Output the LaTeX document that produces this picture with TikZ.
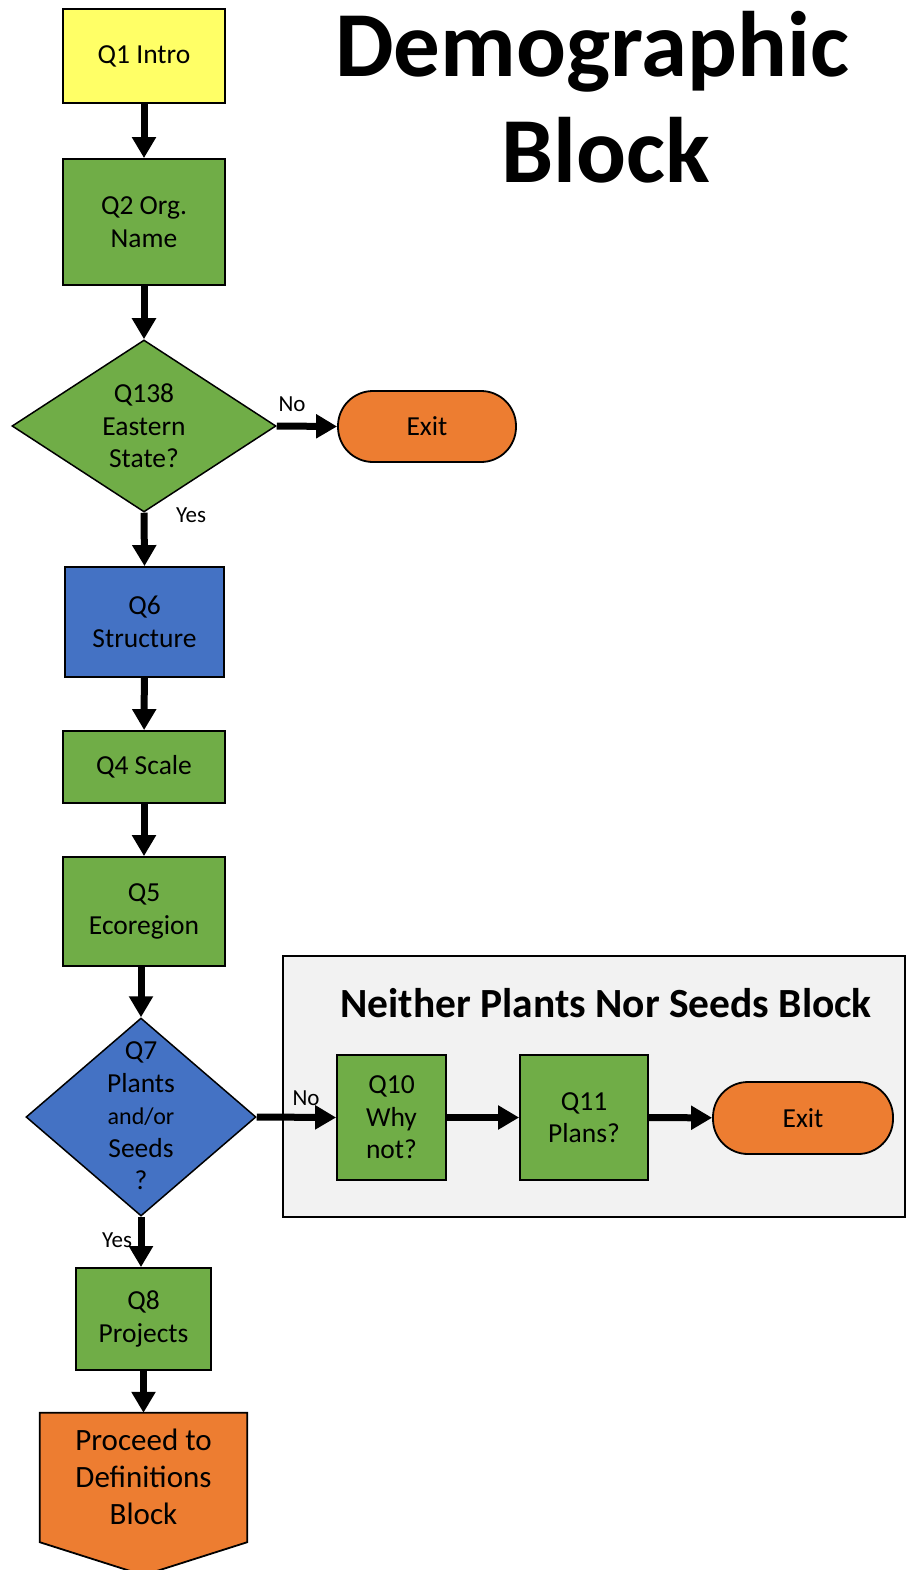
\documentclass[tikz,border=0pt]{standalone}
\usepackage{fontspec}
\setmainfont{Carlito}
\usetikzlibrary{shapes.geometric,arrows.meta,calc,backgrounds}
\definecolor{qyellow}{HTML}{FFFF66}
\definecolor{qgreen}{HTML}{70AD47}
\definecolor{qblue}{HTML}{4472C4}
\definecolor{qorange}{HTML}{ED7D31}
\definecolor{panel}{HTML}{F2F2F2}
\tikzset{
  qbox/.style={draw=black, line width=1.8pt, inner sep=0pt, align=center,
    font=\fontsize{27.5}{32.5}\selectfont},
  qdia/.style={diamond, draw=black, line width=1.5pt, inner sep=0pt},
  qtext/.style={align=center, inner sep=0pt, font=\fontsize{27.5}{32.5}\selectfont},
  exitbox/.style={draw=black, line width=1.8pt, fill=qorange, rounded corners=35pt,
    inner sep=0pt, font=\fontsize{27.5}{32.5}\selectfont},
  flow/.style={line width=7pt, -{Triangle[length=21pt,width=23pt]}},
  lbl/.style={inner sep=0pt, font=\fontsize{23}{27}\selectfont},
}
\begin{document}
\begin{tikzpicture}[x=1pt,y=-1pt]
\useasboundingbox (0,0) rectangle (907,1570);

% title
\node[align=center, inner sep=0pt, font=\fontsize{93}{106}\bfseries\selectfont] (title) at (592,97) {Demographic\\\hspace*{28pt}Block};

% main column
\node[qbox, fill=qyellow, minimum width=162pt, minimum height=94pt] (q1) at (144,56) {Q1 Intro};
\node[qbox, fill=qgreen, minimum width=162pt, minimum height=126pt] (q2) at (144,222) {Q2 Org.\\Name};
\node[qdia, fill=qgreen, minimum width=264pt, minimum height=172pt] (q138) at (144,426) {};
\node[qtext] (q138t) at (144,426) {Q138\\Eastern\\State?};
\node[exitbox, minimum width=178pt, minimum height=71pt] (exit1) at (427,426.5) {Exit};
\node[qbox, fill=qblue, minimum width=159pt, minimum height=110pt] (q6) at (144.5,622) {Q6\\Structure};
\node[qbox, fill=qgreen, minimum width=162pt, minimum height=72pt] (q4) at (144,767) {Q4 Scale};
\node[qbox, fill=qgreen, minimum width=162pt, minimum height=109pt] (q5) at (144,911.5) {Q5\\Ecoregion};

% side block
\node[draw=black, line width=1.5pt, fill=panel, minimum width=622pt, minimum height=261pt, inner sep=0pt] (panelbox) at (594,1086.5) {};
\node[inner sep=0pt, font=\fontsize{41.5}{48}\bfseries\selectfont] (paneltitle) at (606,1003) {Neither Plants Nor Seeds Block};

\node[qdia, fill=qblue, minimum width=230pt, minimum height=198pt] (q7) at (141,1117) {};
\node[qtext] (q7t) at (141,1116) {Q7\\Plants\\{\fontsize{24}{32.5}\selectfont and/or}\\Seeds\\?};
\node[qbox, fill=qgreen, minimum width=109pt, minimum height=125pt] (q10) at (391.5,1117.5) {Q10\\Why\\not?};
\node[qbox, fill=qgreen, minimum width=128pt, minimum height=125pt] (q11) at (584,1117.5) {Q11\\Plans?};
\node[exitbox, minimum width=180pt, minimum height=72pt] (exit2) at (803,1118) {Exit};

\node[qbox, fill=qgreen, minimum width=135pt, minimum height=102pt] (q8) at (143.5,1319) {Q8\\Projects};

% final off-page marker
\node[inner sep=0pt, minimum width=207pt, minimum height=129pt] (proc) at (143.5,1477.5) {};
\draw[line width=1.8pt, fill=qorange] (proc.north west) -- (proc.north east) -- (proc.south east)
  -- ($(proc.south)+(0,33)$) -- (proc.south west) -- cycle;
\node[align=center, inner sep=0pt, font=\fontsize{31}{37}\selectfont] (proct) at (143.5,1477) {Proceed to\\Definitions\\Block};

% connectors
\draw[flow] (q1) -- (q2);
\draw[flow] (q2) -- (q138);
\draw[flow] (q138.east) -- (exit1.west);
\draw[flow] (q138.south) -- (q6.north);
\draw[flow] (q6) -- (q4);
\draw[flow] (q4) -- (q5);
\draw[flow] (q7.north |- q5.south) -- (q7.north);
\draw[flow] (q7.east) -- (q10.west);
\draw[flow] (q10) -- (q11);
\draw[flow] (q11) -- (exit2);
\draw[flow] (q7.south) -- (q8.north -| q7.south);
\draw[flow] (q8) -- (proc.north);

% branch labels
\node[lbl] (no1) at (292,404) {No};
\node[lbl] (yes1) at (191,515) {Yes};
\node[lbl] (no2) at (306,1098) {No};
\node[lbl] (yes2) at (117,1240) {Yes};
\end{tikzpicture}
\end{document}
